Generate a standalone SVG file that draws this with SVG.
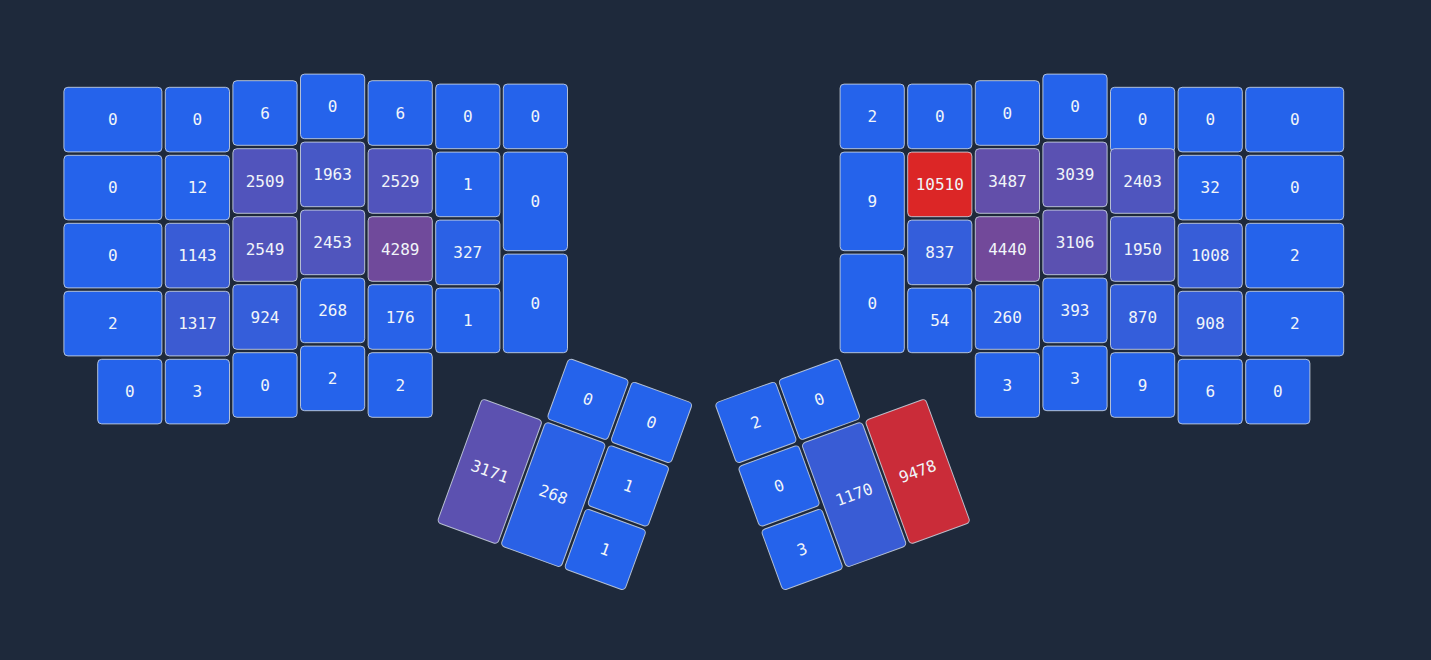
<svg xmlns="http://www.w3.org/2000/svg" width="1431" height="660" viewBox="0 0 1431 660">
<style>
.k rect{stroke:#cbd5e1;stroke-opacity:0.85;stroke-width:1}
.k text{font-family:"DejaVu Sans Mono","Liberation Mono",monospace;font-size:16px;fill:#f1f5f9;text-anchor:middle;dominant-baseline:central}
</style>
<rect width="1431" height="660" fill="#1e293b"/>
<g id="left-hand">
<g id="L-c0r0" class="k"><rect x="63.9" y="87.3" width="98" height="64.6" rx="4" fill="#2563eb"/><text x="112.9" y="119.6">0</text></g>
<g id="L-c0r1" class="k"><rect x="63.9" y="155.3" width="98" height="64.6" rx="4" fill="#2563eb"/><text x="112.9" y="187.6">0</text></g>
<g id="L-c0r2" class="k"><rect x="63.9" y="223.3" width="98" height="64.6" rx="4" fill="#2563eb"/><text x="112.9" y="255.6">0</text></g>
<g id="L-c0r3" class="k"><rect x="63.9" y="291.3" width="98" height="64.6" rx="4" fill="#2563eb"/><text x="112.9" y="323.6">2</text></g>
<g id="L-c0r4" class="k"><rect x="97.7" y="359.3" width="64.2" height="64.6" rx="4" fill="#2563eb"/><text x="129.8" y="391.6">0</text></g>
<g id="L-c1r0" class="k"><rect x="165.3" y="87.3" width="64.2" height="64.6" rx="4" fill="#2563eb"/><text x="197.4" y="119.6">0</text></g>
<g id="L-c1r1" class="k"><rect x="165.3" y="155.3" width="64.2" height="64.6" rx="4" fill="#2563eb"/><text x="197.4" y="187.6">12</text></g>
<g id="L-c1r2" class="k"><rect x="165.3" y="223.3" width="64.2" height="64.6" rx="4" fill="#395cd6"/><text x="197.4" y="255.6">1143</text></g>
<g id="L-c1r3" class="k"><rect x="165.3" y="291.3" width="64.2" height="64.6" rx="4" fill="#3c5bd2"/><text x="197.4" y="323.6">1317</text></g>
<g id="L-c1r4" class="k"><rect x="165.3" y="359.3" width="64.2" height="64.6" rx="4" fill="#2563eb"/><text x="197.4" y="391.6">3</text></g>
<g id="L-c2r0" class="k"><rect x="232.9" y="80.7" width="64.2" height="64.6" rx="4" fill="#2563eb"/><text x="265" y="113">6</text></g>
<g id="L-c2r1" class="k"><rect x="232.9" y="148.7" width="64.2" height="64.6" rx="4" fill="#5154bc"/><text x="265" y="181">2509</text></g>
<g id="L-c2r2" class="k"><rect x="232.9" y="216.7" width="64.2" height="64.6" rx="4" fill="#5154bb"/><text x="265" y="249">2549</text></g>
<g id="L-c2r3" class="k"><rect x="232.9" y="284.7" width="64.2" height="64.6" rx="4" fill="#355eda"/><text x="265" y="317">924</text></g>
<g id="L-c2r4" class="k"><rect x="232.9" y="352.7" width="64.2" height="64.6" rx="4" fill="#2563eb"/><text x="265" y="385">0</text></g>
<g id="L-c3r0" class="k"><rect x="300.5" y="74.1" width="64.2" height="64.6" rx="4" fill="#2563eb"/><text x="332.6" y="106.4">0</text></g>
<g id="L-c3r1" class="k"><rect x="300.5" y="142.1" width="64.2" height="64.6" rx="4" fill="#4758c6"/><text x="332.6" y="174.4">1963</text></g>
<g id="L-c3r2" class="k"><rect x="300.5" y="210.1" width="64.2" height="64.6" rx="4" fill="#5055bd"/><text x="332.6" y="242.4">2453</text></g>
<g id="L-c3r3" class="k"><rect x="300.5" y="278.1" width="64.2" height="64.6" rx="4" fill="#2a61e6"/><text x="332.6" y="310.4">268</text></g>
<g id="L-c3r4" class="k"><rect x="300.5" y="346.1" width="64.2" height="64.6" rx="4" fill="#2563eb"/><text x="332.6" y="378.4">2</text></g>
<g id="L-c4r0" class="k"><rect x="368.1" y="80.7" width="64.2" height="64.6" rx="4" fill="#2563eb"/><text x="400.2" y="113">6</text></g>
<g id="L-c4r1" class="k"><rect x="368.1" y="148.7" width="64.2" height="64.6" rx="4" fill="#5154bc"/><text x="400.2" y="181">2529</text></g>
<g id="L-c4r2" class="k"><rect x="368.1" y="216.7" width="64.2" height="64.6" rx="4" fill="#704a9b"/><text x="400.2" y="249">4289</text></g>
<g id="L-c4r3" class="k"><rect x="368.1" y="284.7" width="64.2" height="64.6" rx="4" fill="#2862e8"/><text x="400.2" y="317">176</text></g>
<g id="L-c4r4" class="k"><rect x="368.1" y="352.7" width="64.2" height="64.6" rx="4" fill="#2563eb"/><text x="400.2" y="385">2</text></g>
<g id="L-c5r0" class="k"><rect x="435.7" y="84.1" width="64.2" height="64.6" rx="4" fill="#2563eb"/><text x="467.8" y="116.4">0</text></g>
<g id="L-c5r1" class="k"><rect x="435.7" y="152.1" width="64.2" height="64.6" rx="4" fill="#2563eb"/><text x="467.8" y="184.4">1</text></g>
<g id="L-c5r2" class="k"><rect x="435.7" y="220.1" width="64.2" height="64.6" rx="4" fill="#2b61e5"/><text x="467.8" y="252.4">327</text></g>
<g id="L-c5r3" class="k"><rect x="435.7" y="288.1" width="64.2" height="64.6" rx="4" fill="#2563eb"/><text x="467.8" y="320.4">1</text></g>
<g id="L-c6r0" class="k"><rect x="503.3" y="84.1" width="64.2" height="64.6" rx="4" fill="#2563eb"/><text x="535.4" y="116.4">0</text></g>
<g id="L-c6r1" class="k"><rect x="503.3" y="152.1" width="64.2" height="98.6" rx="4" fill="#2563eb"/><text x="535.4" y="201.4">0</text></g>
<g id="L-c6r2" class="k"><rect x="503.3" y="254.1" width="64.2" height="98.6" rx="4" fill="#2563eb"/><text x="535.4" y="303.4">0</text></g>
</g>
<g id="left-thumb" transform="translate(553.3 494.6) rotate(20)">
<g id="LT-1" class="k"><rect x="-99.7" y="-65.9" width="64.2" height="131.8" rx="4" fill="#5c51b0"/><text x="-67.6" y="0">3171</text></g>
<g id="LT-2" class="k"><rect x="-32.1" y="-65.9" width="64.2" height="131.8" rx="4" fill="#2a61e6"/><text x="0" y="0">268</text></g>
<g id="LT-3" class="k"><rect x="-32.1" y="-133.5" width="64.2" height="64.2" rx="4" fill="#2563eb"/><text x="0" y="-101.4">0</text></g>
<g id="LT-4" class="k"><rect x="35.5" y="-133.5" width="64.2" height="64.2" rx="4" fill="#2563eb"/><text x="67.6" y="-101.4">0</text></g>
<g id="LT-5" class="k"><rect x="35.5" y="-65.9" width="64.2" height="64.2" rx="4" fill="#2563eb"/><text x="67.6" y="-33.8">1</text></g>
<g id="LT-6" class="k"><rect x="35.5" y="1.7" width="64.2" height="64.2" rx="4" fill="#2563eb"/><text x="67.6" y="33.8">1</text></g>
</g>
<g id="right-hand">
<g id="R-c0r0" class="k"><rect x="840.1" y="84.1" width="64.2" height="64.6" rx="4" fill="#2563eb"/><text x="872.2" y="116.4">2</text></g>
<g id="R-c0r1" class="k"><rect x="840.1" y="152.1" width="64.2" height="98.6" rx="4" fill="#2563eb"/><text x="872.2" y="201.4">9</text></g>
<g id="R-c0r2" class="k"><rect x="840.1" y="254.1" width="64.2" height="98.6" rx="4" fill="#2563eb"/><text x="872.2" y="303.4">0</text></g>
<g id="R-c1r0" class="k"><rect x="907.7" y="84.1" width="64.2" height="64.6" rx="4" fill="#2563eb"/><text x="939.8" y="116.4">0</text></g>
<g id="R-c1r1" class="k"><rect x="907.7" y="152.1" width="64.2" height="64.6" rx="4" fill="#dc2626"/><text x="939.8" y="184.4">10510</text></g>
<g id="R-c1r2" class="k"><rect x="907.7" y="220.1" width="64.2" height="64.6" rx="4" fill="#345edb"/><text x="939.8" y="252.4">837</text></g>
<g id="R-c1r3" class="k"><rect x="907.7" y="288.1" width="64.2" height="64.6" rx="4" fill="#2663ea"/><text x="939.8" y="320.4">54</text></g>
<g id="R-c2r0" class="k"><rect x="975.3" y="80.7" width="64.2" height="64.6" rx="4" fill="#2563eb"/><text x="1007.4" y="113">0</text></g>
<g id="R-c2r1" class="k"><rect x="975.3" y="148.7" width="64.2" height="64.6" rx="4" fill="#624faa"/><text x="1007.4" y="181">3487</text></g>
<g id="R-c2r2" class="k"><rect x="975.3" y="216.7" width="64.2" height="64.6" rx="4" fill="#72499a"/><text x="1007.4" y="249">4440</text></g>
<g id="R-c2r3" class="k"><rect x="975.3" y="284.7" width="64.2" height="64.6" rx="4" fill="#2a61e6"/><text x="1007.4" y="317">260</text></g>
<g id="R-c2r4" class="k"><rect x="975.3" y="352.7" width="64.2" height="64.6" rx="4" fill="#2563eb"/><text x="1007.4" y="385">3</text></g>
<g id="R-c3r0" class="k"><rect x="1042.9" y="74.1" width="64.2" height="64.6" rx="4" fill="#2563eb"/><text x="1075" y="106.4">0</text></g>
<g id="R-c3r1" class="k"><rect x="1042.9" y="142.1" width="64.2" height="64.6" rx="4" fill="#5a51b2"/><text x="1075" y="174.4">3039</text></g>
<g id="R-c3r2" class="k"><rect x="1042.9" y="210.1" width="64.2" height="64.6" rx="4" fill="#5b51b1"/><text x="1075" y="242.4">3106</text></g>
<g id="R-c3r3" class="k"><rect x="1042.9" y="278.1" width="64.2" height="64.6" rx="4" fill="#2c61e4"/><text x="1075" y="310.4">393</text></g>
<g id="R-c3r4" class="k"><rect x="1042.9" y="346.1" width="64.2" height="64.6" rx="4" fill="#2563eb"/><text x="1075" y="378.4">3</text></g>
<g id="R-c4r0" class="k"><rect x="1110.5" y="87.3" width="64.2" height="64.6" rx="4" fill="#2563eb"/><text x="1142.6" y="119.6">0</text></g>
<g id="R-c4r1" class="k"><rect x="1110.5" y="148.7" width="64.2" height="64.6" rx="4" fill="#4f55be"/><text x="1142.6" y="181">2403</text></g>
<g id="R-c4r2" class="k"><rect x="1110.5" y="216.7" width="64.2" height="64.6" rx="4" fill="#4758c6"/><text x="1142.6" y="249">1950</text></g>
<g id="R-c4r3" class="k"><rect x="1110.5" y="284.7" width="64.2" height="64.6" rx="4" fill="#345edb"/><text x="1142.6" y="317">870</text></g>
<g id="R-c4r4" class="k"><rect x="1110.5" y="352.7" width="64.2" height="64.6" rx="4" fill="#2563eb"/><text x="1142.6" y="385">9</text></g>
<g id="R-c5r0" class="k"><rect x="1178.1" y="87.3" width="64.2" height="64.6" rx="4" fill="#2563eb"/><text x="1210.2" y="119.6">0</text></g>
<g id="R-c5r1" class="k"><rect x="1178.1" y="155.3" width="64.2" height="64.6" rx="4" fill="#2563eb"/><text x="1210.2" y="187.6">32</text></g>
<g id="R-c5r2" class="k"><rect x="1178.1" y="223.3" width="64.2" height="64.6" rx="4" fill="#375dd8"/><text x="1210.2" y="255.6">1008</text></g>
<g id="R-c5r3" class="k"><rect x="1178.1" y="291.3" width="64.2" height="64.6" rx="4" fill="#355eda"/><text x="1210.2" y="323.6">908</text></g>
<g id="R-c5r4" class="k"><rect x="1178.1" y="359.3" width="64.2" height="64.6" rx="4" fill="#2563eb"/><text x="1210.2" y="391.6">6</text></g>
<g id="R-c6r0" class="k"><rect x="1245.7" y="87.3" width="98" height="64.6" rx="4" fill="#2563eb"/><text x="1294.7" y="119.6">0</text></g>
<g id="R-c6r1" class="k"><rect x="1245.7" y="155.3" width="98" height="64.6" rx="4" fill="#2563eb"/><text x="1294.7" y="187.6">0</text></g>
<g id="R-c6r2" class="k"><rect x="1245.7" y="223.3" width="98" height="64.6" rx="4" fill="#2563eb"/><text x="1294.7" y="255.6">2</text></g>
<g id="R-c6r3" class="k"><rect x="1245.7" y="291.3" width="98" height="64.6" rx="4" fill="#2563eb"/><text x="1294.7" y="323.6">2</text></g>
<g id="R-c6r4" class="k"><rect x="1245.7" y="359.3" width="64.2" height="64.6" rx="4" fill="#2563eb"/><text x="1277.8" y="391.6">0</text></g>
</g>
<g id="right-thumb" transform="translate(854.1 494.6) rotate(-20)">
<g id="RT-1" class="k"><rect x="-32.1" y="-65.9" width="64.2" height="131.8" rx="4" fill="#395cd5"/><text x="0" y="0">1170</text></g>
<g id="RT-2" class="k"><rect x="35.5" y="-65.9" width="64.2" height="131.8" rx="4" fill="#ca2c39"/><text x="67.6" y="0">9478</text></g>
<g id="RT-3" class="k"><rect x="-99.7" y="-133.5" width="64.2" height="64.2" rx="4" fill="#2563eb"/><text x="-67.6" y="-101.4">2</text></g>
<g id="RT-4" class="k"><rect x="-32.1" y="-133.5" width="64.2" height="64.2" rx="4" fill="#2563eb"/><text x="0" y="-101.4">0</text></g>
<g id="RT-5" class="k"><rect x="-99.7" y="-65.9" width="64.2" height="64.2" rx="4" fill="#2563eb"/><text x="-67.6" y="-33.8">0</text></g>
<g id="RT-6" class="k"><rect x="-99.7" y="1.7" width="64.2" height="64.2" rx="4" fill="#2563eb"/><text x="-67.6" y="33.8">3</text></g>
</g>
<g id="connectors"/>
</svg>
